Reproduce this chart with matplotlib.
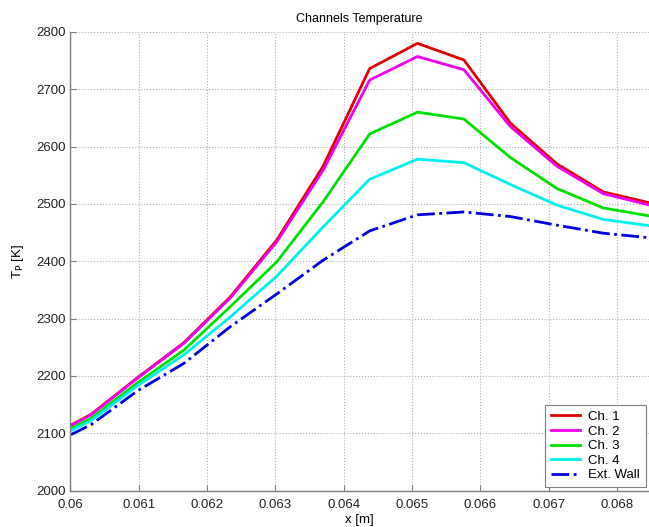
import matplotlib
matplotlib.use('Agg')
import matplotlib.pyplot as plt

plt.rcParams['font.family'] = ['Liberation Sans', 'DejaVu Sans']

# Axial position [m]
x_pos = [0.05962, 0.06030, 0.06098, 0.06166, 0.06234, 0.06302, 0.06370,
         0.06438, 0.06508, 0.06576, 0.06644, 0.06712, 0.06780, 0.06848]

# Temperatures [K]
ch1 = [2090, 2133, 2197, 2258, 2338, 2437, 2566, 2736, 2780, 2751, 2641, 2570, 2521, 2502]
ch2 = [2089, 2132, 2196, 2257, 2336, 2434, 2559, 2716, 2757, 2734, 2635, 2566, 2518, 2498]
ch3 = [2085, 2126, 2188, 2245, 2321, 2399, 2504, 2622, 2660, 2648, 2581, 2527, 2493, 2479]
ch4 = [2082, 2122, 2183, 2237, 2303, 2374, 2460, 2543, 2578, 2572, 2534, 2498, 2473, 2462]
ext_wall = [2075, 2115, 2174, 2222, 2286, 2343, 2402, 2453, 2481, 2486, 2478, 2463, 2449, 2441]

series = [
    ('Ch. 1', ch1, '#e00000', '-'),
    ('Ch. 2', ch2, '#f000f0', '-'),
    ('Ch. 3', ch3, '#00e000', '-'),
    ('Ch. 4', ch4, '#00f0f0', '-'),
    ('Ext. Wall', ext_wall, '#0000e0', '-.'),
]

fig = plt.figure(figsize=(6.49, 5.27), dpi=100)
ax = fig.add_axes([0.1086, 0.0689, 0.8914, 0.8706])

for label, vals, color, ls in series:
    ax.plot(x_pos, vals, color=color, linestyle=ls, linewidth=2.0, label=label)

ax.set_xlim(0.06, 0.06847)
ax.set_ylim(2000, 2800)
ax.set_xticks([0.06, 0.061, 0.062, 0.063, 0.064, 0.065, 0.066, 0.067, 0.068])
ax.set_xticklabels(['0.06', '0.061', '0.062', '0.063', '0.064', '0.065',
                    '0.066', '0.067', '0.068'])
ax.set_yticks(range(2000, 2801, 100))

ax.grid(True, color='#b0b0b0', linestyle=':', linewidth=0.8)
ax.spines['top'].set_visible(False)
ax.spines['right'].set_visible(False)
for s in ('left', 'bottom'):
    ax.spines[s].set_color('#808080')
    ax.spines[s].set_linewidth(1.0)
ax.tick_params(direction='in', length=4, color='#808080', labelsize=9.5,
               labelcolor='#222222')
ax.tick_params(axis='x', pad=6)

ax.set_title('Channels Temperature', fontsize=9, pad=7)
ax.set_xlabel('x [m]', fontsize=9.5, labelpad=2)
ax.set_ylabel(r'T$_\mathrm{P}$ [K]', fontsize=9.5, labelpad=7)

leg = ax.legend(loc='lower right', fontsize=9.5, frameon=True, fancybox=False,
                handlelength=2.2, handletextpad=0.6, borderpad=0.45,
                labelspacing=0.18, borderaxespad=0.25, framealpha=1)
leg.get_frame().set_edgecolor('#808080')
leg.get_frame().set_linewidth(0.8)

fig.savefig('out.png', dpi=100)
